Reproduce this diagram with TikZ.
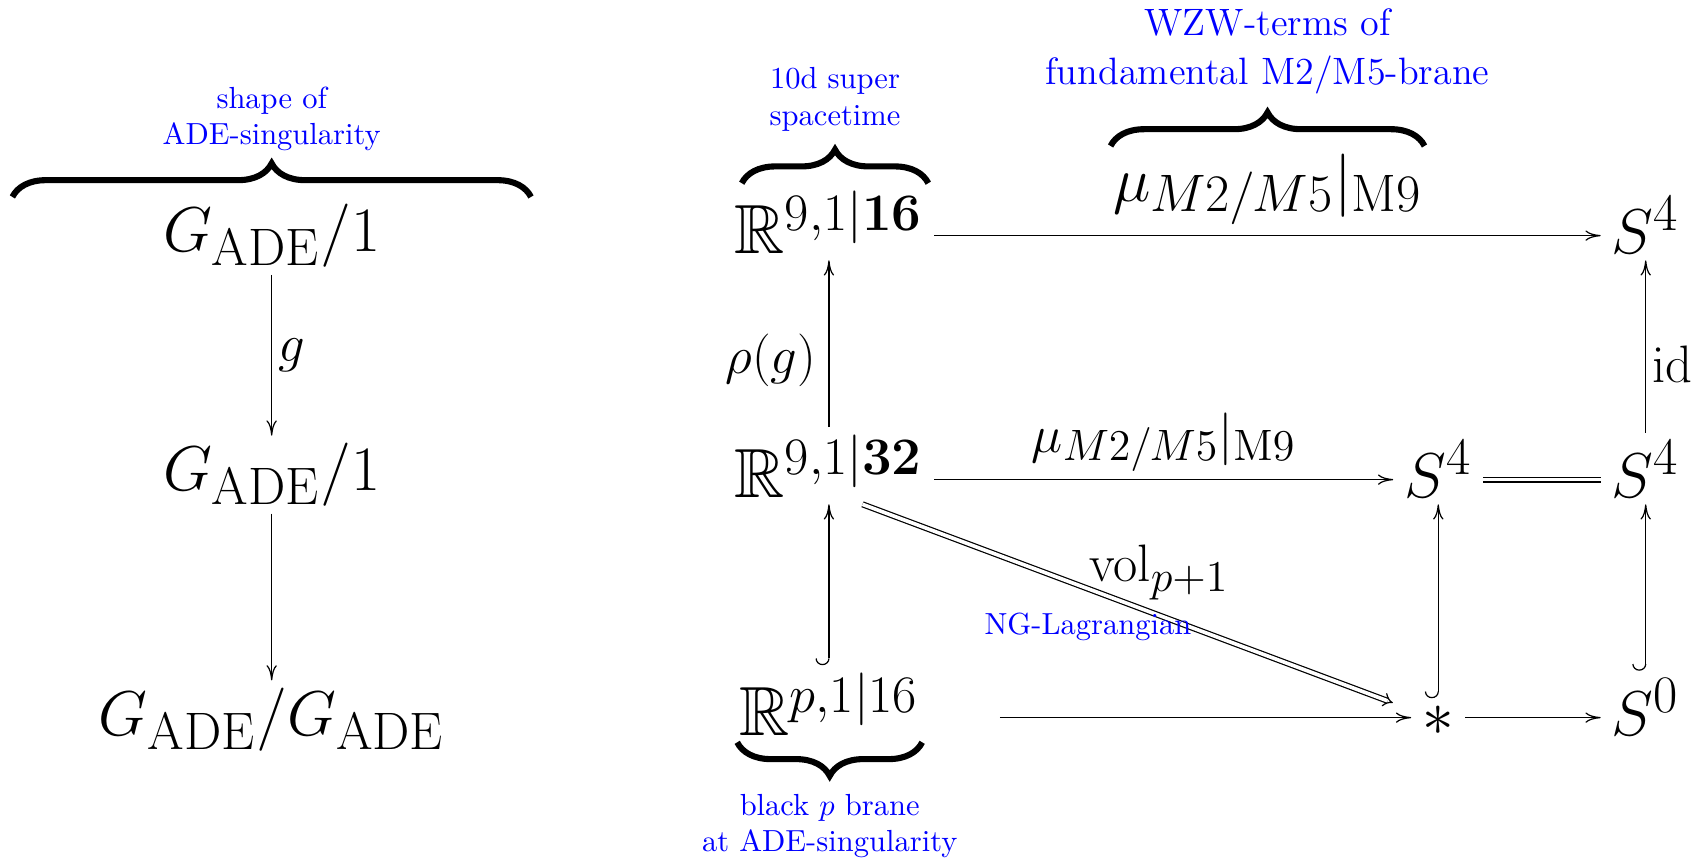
\documentclass[tikz,border=0pt]{standalone}
\usepackage{amsmath,amssymb}
\usepackage{tikz}
\usetikzlibrary{arrows.meta,positioning,decorations.pathreplacing}
\DeclareMathSizes{22.8}{22.8}{19}{14.4}
\DeclareMathSizes{20.74}{20.74}{18.3}{14.4}
\DeclareMathSizes{17.28}{17.28}{15.3}{12}
\newcommand{\objfont}{\fontsize{22.8}{27}\selectfont}
\newcommand{\RR}{\mathbb{R}}
\newcommand{\GADE}{G_{\mathrm{ADE}}}
\newcommand{\muMM}{\mu_{\smash[t]{M2/M5}}\vert_{\smash[t]{\mathrm{M9}}}}
\newcommand{\axh}{5.7pt}
\tikzset{
  obj/.style={anchor=base, font=\objfont, inner xsep=3.5pt, inner ysep=2.2pt},
  cdarr/.style={-{Computer Modern Rightarrow[length=5pt,width=3.4pt]}, line width=0.4pt},
  hookarr/.style={{Hooks[right,length=2.2pt,width=8.8pt]}-{Computer Modern Rightarrow[length=5pt,width=3.4pt]},
    line width=0.4pt},
  eqline/.style={double, double distance=1.2pt, line width=0.4pt},
  dblarr/.style={eqline, -{Implies}},
  brc/.style={decorate, decoration={brace, amplitude=11pt}, line width=2pt},
  bluelbl/.style={text=blue, align=center, inner sep=3pt, font=\normalsize},
}

\begin{document}
\begin{tikzpicture}[
  lbl/.style={font=\LARGE, inner sep=2pt},
]
  \useasboundingbox (0,0) rectangle (19.62,-9.91);

  % left column
  \node[obj] (gtop) at (3.13,-2.90) {$\GADE/1$};
  \node[obj] (gmid) at (3.13,-5.65) {$\GADE/1$};
  \node[obj] (gbot) at (3.13,-8.47) {$\GADE/\GADE$};

  \draw[brc] ([xshift=-85pt]gtop.north) -- ([xshift=85pt]gtop.north)
    node[bluelbl, midway, above=11pt] (shape) {shape of\\ADE-singularity};
  \draw[cdarr] (gtop.south) -- node[lbl, right] {$g$} (gmid.north);
  \draw[cdarr] (gmid.south) -- (gbot.north);

  % right diagram
  \node[obj] (r16) at (9.55,-2.915) {$\RR^{9,1\vert\mathbf{16}}$};
  \node[obj] (s4a) at (18.96,-2.915) {$S^4$};
  \node[obj] (r32) at (9.55,-5.726) {$\RR^{9,1\vert\mathbf{32}}$};
  \node[obj] (s4b) at (16.57,-5.726) {$S^4$};
  \node[obj] (s4c) at (18.96,-5.726) {$S^4$};
  \node[obj] (rp) at (9.55,-8.468) {$\RR^{p,1\vert 16}$};
  \node[obj] (ast) at (16.57,-8.468) {$\ast$};
  \node[obj] (s0) at (18.96,-8.468) {$S^0$};

  \draw[cdarr] ([yshift=\axh]r16.base east) --
    node[above=0.8pt, font=\huge, inner sep=2.6pt] (mutop) {$\muMM$}
    ([yshift=\axh]s4a.base west);
  \draw[brc] ([xshift=2pt]mutop.north west) -- ([xshift=-2pt]mutop.north east)
    node[bluelbl, font=\fontsize{12.5}{16}\selectfont, midway, above=13pt] (wzw)
    {WZW-terms of\\fundamental M2/M5-brane};
  \draw[brc] ([xshift=6pt]r16.north west) -- ([xshift=-2pt]r16.north east)
    node[bluelbl, midway, above=13pt] (spc) {10d super\\spacetime};
  \draw[brc] ([xshift=-2.5pt]rp.south east) -- ([xshift=3pt]rp.south west)
    node[bluelbl, midway, below=13pt] (blk) {black $p$ brane\\at ADE-singularity};

  \draw[cdarr] (r32.north) -- node[lbl, left=2pt, pos=.4] {$\rho(g)$} (r16.south);
  \draw[cdarr] (s4c.north) -- node[lbl, right, pos=.4] {$\mathrm{id}$} (s4a.south);
  \draw[hookarr] (rp.north) -- (r32.south);
  \draw[hookarr] (ast.north) -- (s4b.south);
  \draw[hookarr] (s0.north) -- (s4c.south);

  \draw[cdarr] ([yshift=\axh]r32.base east) --
    node[lbl, above=0.5pt] (mumid) {$\muMM$}
    ([yshift=\axh]s4b.base west);
  \draw[eqline] ([yshift=\axh]s4b.base east) -- ([yshift=\axh]s4c.base west);
  \draw[cdarr, shorten <=23pt] ([yshift=\axh]rp.base east) -- ([yshift=\axh]ast.base west);
  \draw[cdarr] ([yshift=\axh]ast.base east) -- ([yshift=\axh]s0.base west);

  \draw[dblarr] ([xshift=11pt]r32.south) --
    node[lbl, pos=.415, anchor=south west, yshift=-6.5pt] (vol) {$\mathrm{vol}_{p+1}$}
    node[bluelbl, pos=.425, yshift=-12.5pt] (ng) {NG-Lagrangian}
    ([xshift=-6pt,yshift=-1.5pt]ast.north west);
\end{tikzpicture}
\end{document}
